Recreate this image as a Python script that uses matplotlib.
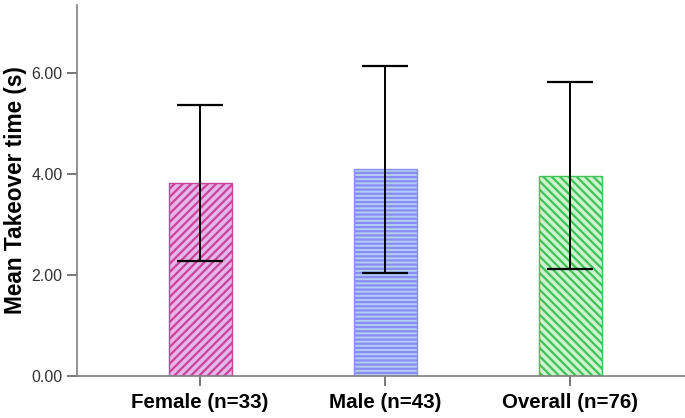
import matplotlib.pyplot as plt
import numpy as np

plt.rcParams['font.family'] = ['Liberation Sans', 'DejaVu Sans']
plt.rcParams['hatch.linewidth'] = 1.6

groups = ['Female (n=33)', 'Male (n=43)', 'Overall (n=76)']
means = [3.82, 4.10, 3.97]
errors = [1.55, 2.05, 1.85]
face_colors = ['#e4b6ea', '#b4cdf2', '#cdf3cd']
line_colors = ['#c8449a', '#8a8cf6', '#3fc257']
hatches = ['////', '----', '\\\\\\\\']

fig = plt.figure(figsize=(6.85, 4.18), dpi=100)
ax = fig.add_axes([0.1124, 0.1005, 0.8876, 0.8875])

x = np.arange(len(groups))
for i in range(len(groups)):
    ax.bar(x[i], means[i], width=0.34, color=face_colors[i], edgecolor=line_colors[i],
           hatch=hatches[i], linewidth=1.0, zorder=2)
ax.errorbar(x, means, yerr=errors, fmt='none', ecolor='black', elinewidth=1.4,
            capsize=16.5, capthick=1.6, zorder=3)

ax.set_xlim(-0.665, 2.62)
ax.set_ylim(0, 7.35)
ax.set_yticks([0, 2, 4, 6])
ax.set_yticklabels(['0.00', '2.00', '4.00', '6.00'], fontsize=11.5, color='#333333')
ax.set_xticks(x)
ax.set_xticklabels(groups, fontsize=14.8, fontweight='bold')
ax.set_ylabel('Mean Takeover time (s)', fontsize=16.3, fontweight='bold')
ax.yaxis.set_label_coords(-0.083, 0.5)

for side in ['top', 'right']:
    ax.spines[side].set_visible(False)
for side in ['left', 'bottom']:
    ax.spines[side].set_color('#808080')
    ax.spines[side].set_linewidth(1.2)
ax.tick_params(axis='both', color='#606060', width=1.2, length=7)
ax.tick_params(axis='x', pad=5)

fig.savefig('out.png', dpi=100)
